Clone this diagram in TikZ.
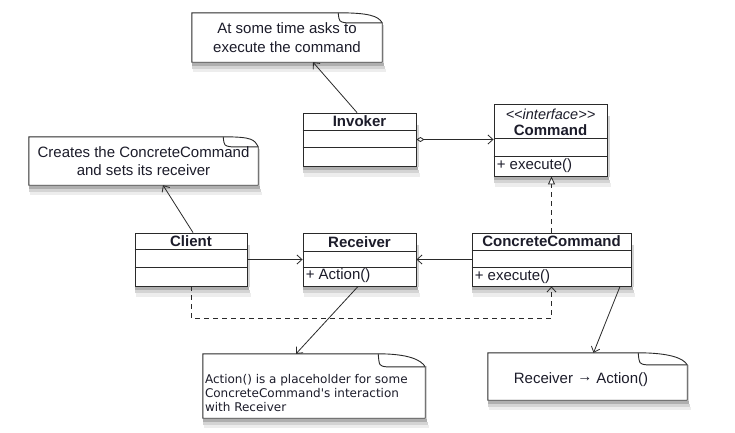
\documentclass[tikz,border=0pt]{standalone}
\usepackage{fontspec}
\setmainfont{Liberation Sans}
\newfontfamily\dejavu{DejaVu Sans}
\usetikzlibrary{calc,arrows.meta}
\definecolor{bg}{HTML}{FFFFFF}
\definecolor{ink}{HTML}{1C1C2A}
\definecolor{stroke}{HTML}{2A2A2A}
\definecolor{shadowa}{HTML}{EDEDED}
\definecolor{shadowb}{HTML}{D4D4D4}
\definecolor{shadowc}{HTML}{AFAFAF}
\tikzset{
  base/.style={draw=stroke, line width=0.9pt},
  cls/.style={base, fill=white, rectangle, inner sep=0pt},
  notebg/.style={base, fill=white},
  notearea/.style={rectangle, inner sep=0pt},
  shade/.style={line width=3.2pt, line cap=butt},
  title/.style={text=ink, font=\fontsize{15}{18}\selectfont\bfseries, inner sep=0pt},
  stereo/.style={text=ink, font=\fontsize{14.5}{17}\selectfont\itshape, inner sep=0pt},
  member/.style={text=ink, font=\fontsize{15}{18}\selectfont, inner sep=0pt, anchor=west},
  lab/.style={text=ink, font=\fontsize{15}{18.5}\selectfont, align=center, inner sep=0pt},
  labs/.style={text=ink, font=\dejavu\fontsize{12}{14}\selectfont, align=left, inner sep=0pt},
  link/.style={base, line width=0.8pt, -{Straight Barb[length=5pt,width=9pt]}},
  assoc/.style={base, line width=0.8pt, {Diamond[open,length=8pt,width=5pt,fill=white]}-{Straight Barb[length=5pt,width=9pt]}},
  realize/.style={base, line width=0.8pt, dash pattern=on 5pt off 4pt, -{Triangle[open,length=8pt,width=7pt,fill=white]}},
  dep/.style={base, line width=0.8pt, dash pattern=on 5pt off 4pt, -{Straight Barb[length=5pt,width=9pt]}},
}
\begin{document}
\begin{tikzpicture}[x=1pt,y=-1pt]
  \fill[bg] (0,0) rectangle (735,432);

  % classes
  \node[cls, minimum width=113pt, minimum height=53pt] (invoker) at (359.5,139.5) {};
  \node[cls, minimum width=113pt, minimum height=72pt] (command) at (550.5,140) {};
  \node[cls, minimum width=112pt, minimum height=53pt] (client) at (191,259.5) {};
  \node[cls, minimum width=113pt, minimum height=53pt] (receiver) at (359.5,259.5) {};
  \node[cls, minimum width=159pt, minimum height=53pt] (concrete) at (551.5,259.5) {};

  \foreach \c/\a/\b in {invoker/18/35, command/35/53, client/17/35, receiver/19/35, concrete/18/35}{
    \draw[base] ([yshift=-\a pt]\c.north west) -- ([yshift=-\a pt]\c.north east);
    \draw[base] ([yshift=-\b pt]\c.north west) -- ([yshift=-\b pt]\c.north east);
  }

  \node[title] (invokername) at ([yshift=-9pt]invoker.north) {Invoker};
  \node[stereo] (commandstereo) at ([yshift=-11pt]command.north) {<{}<interface>{}>};
  \node[title] (commandname) at ([yshift=-27pt]command.north) {Command};
  \node[member] (commandop) at ([xshift=3pt,yshift=-62.5pt]command.north west) {+ execute()};
  \node[title] (clientname) at ([yshift=-8.5pt]client.north) {Client};
  \node[title] (receivername) at ([yshift=-9.5pt]receiver.north) {Receiver};
  \node[member] (receiverop) at ([xshift=3pt,yshift=-43.5pt]receiver.north west) {+ Action()};
  \node[title] (concretename) at ([yshift=-9pt]concrete.north) {ConcreteCommand};
  \node[member] (concreteop) at ([xshift=3pt,yshift=-44pt]concrete.north west) {+ execute()};

  % notes
  \node[notearea, minimum width=190pt, minimum height=49pt] (note1) at (287,37.5) {};
  \node[notearea, minimum width=229pt, minimum height=48pt] (note2) at (143.5,161) {};
  \node[notearea, minimum width=222pt, minimum height=64pt] (note3) at (314,386) {};
  \node[notearea, minimum width=199pt, minimum height=47pt] (note4) at (587.5,376.5) {};

  \foreach \n/\ew/\eh in {note1/44/10, note2/35/10, note3/47/13, note4/49/12}{
    \draw[notebg] (\n.north west) -- ([xshift=-\ew pt]\n.north east)
      .. controls ([xshift=-\ew pt+30pt]\n.north east) and ([xshift=-4pt,yshift=-\eh pt+7pt]\n.north east)
      .. ([yshift=-\eh pt]\n.north east) -- (\n.south east) -- (\n.south west) -- cycle;
    \draw[base] ([xshift=-\ew pt]\n.north east)
      .. controls ([xshift=-\ew pt+1pt,yshift=-\eh pt+1pt]\n.north east)
      .. ([xshift=-\ew pt+8pt,yshift=-\eh pt]\n.north east) -- ([yshift=-\eh pt]\n.north east);
  }

  % soft shadows below every box and note
  \foreach \n in {invoker,command,client,receiver,concrete,note1,note2,note3,note4}{
    \draw[shade, shadowa] ([shift={(1pt,-8.6pt)}]\n.south west) -- ([shift={(3.5pt,-8.6pt)}]\n.south east);
    \draw[shade, shadowb] ([shift={(0.5pt,-5.4pt)}]\n.south west) -- ([shift={(2.5pt,-5.4pt)}]\n.south east);
    \draw[shade, shadowc] ([shift={(0pt,-2.2pt)}]\n.south west) -- ([shift={(1.5pt,-2.2pt)}]\n.south east);
    \draw[line width=1.5pt, shadowb] ([shift={(1.3pt,-12pt)}]\n.north east) -- ([shift={(1.3pt,-0.5pt)}]\n.south east);
  }

  \node[lab] (note1txt) at (note1) {At some time asks to\\execute the command};
  \node[lab] (note2txt) at (note2) {Creates the ConcreteCommand\\and sets its receiver};
  \node[labs, anchor=west] (note3txt) at ([xshift=2pt,yshift=-7pt]note3.west) {Action() is a placeholder for some\\ConcreteCommand's interaction\\with Receiver};
  \node[lab] (note4txt) at ([xshift=-6.5pt,yshift=-3.5pt]note4.center) {Receiver \raisebox{2.5pt}{→} Action()};

  % connectors
  \draw[link] ([xshift=-2.5pt]invoker.north) -- ([xshift=26pt]note1.south);
  \draw[link] ([xshift=2pt]client.north) -- ([xshift=19.5pt]note2.south);
  \draw[link] ([xshift=-1.5pt]receiver.south) -- ([xshift=-18pt]note3.north);
  \draw[link] ([xshift=68.5pt]concrete.south) -- ([xshift=6pt]note4.north);
  \draw[assoc] (invoker.east) -- (invoker.east -| command.west);
  \draw[link] (client.east) -- (receiver.west);
  \draw[link] (concrete.west) -- (receiver.east);
  \draw[realize] (concrete.north) -- (concrete.north |- command.south);
  \draw[dep] (client.south) -- ++(0,32) -| (concrete.south);
\end{tikzpicture}
\end{document}
